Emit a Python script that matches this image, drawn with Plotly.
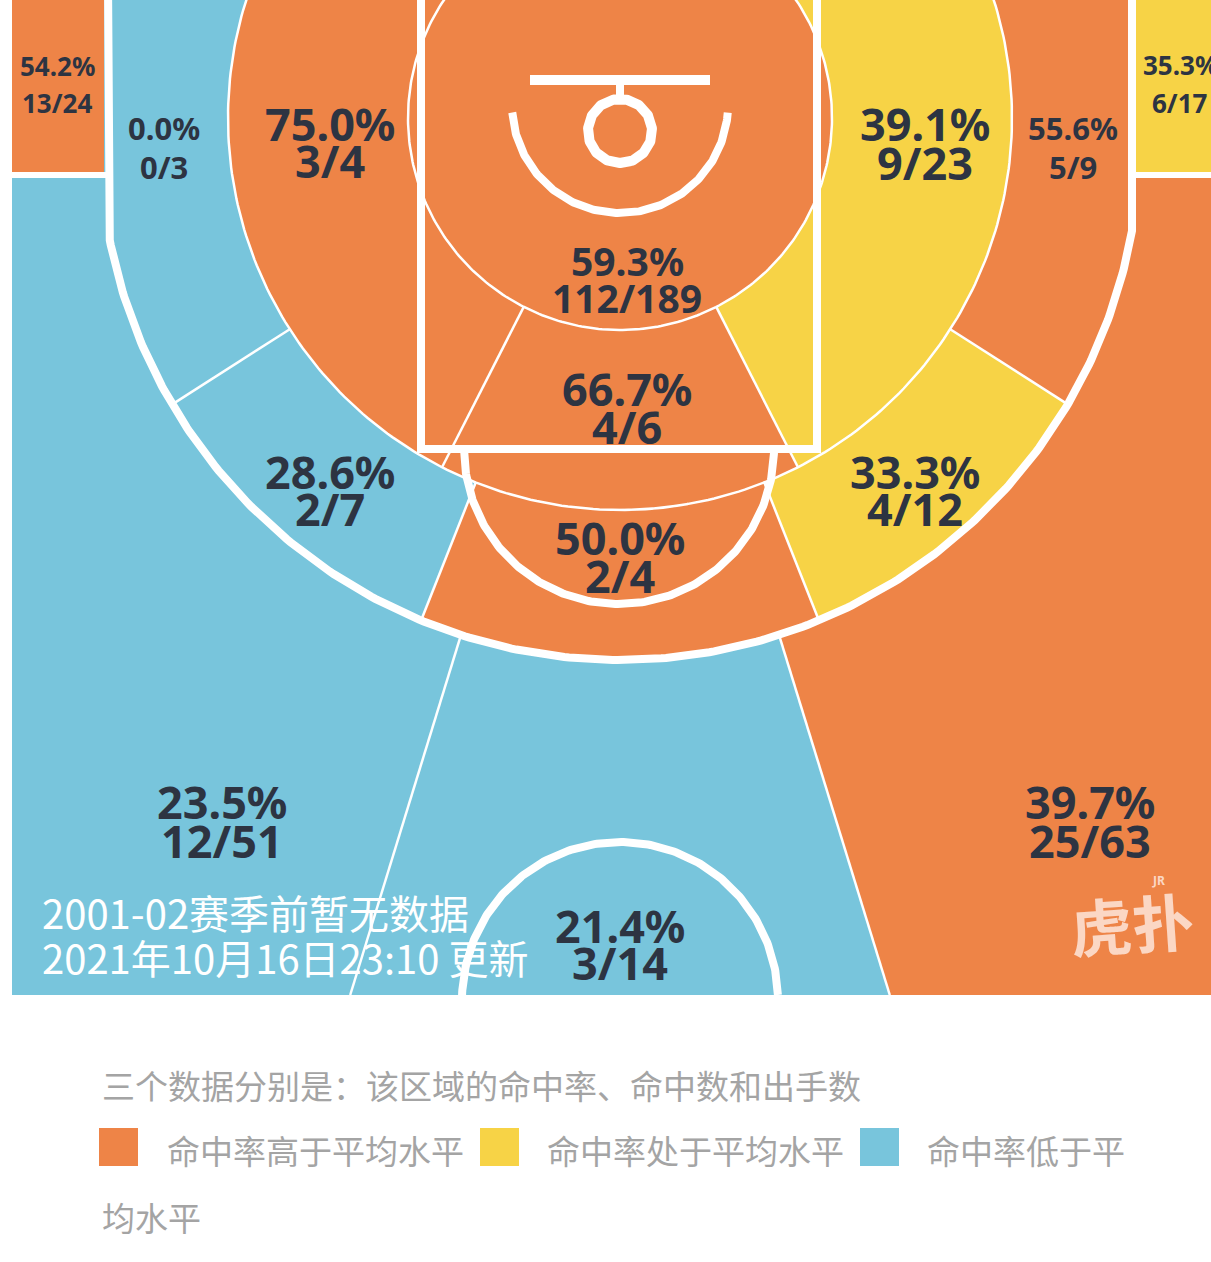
import numpy as np
import plotly.graph_objects as go

# ---- data: one entry per shooting zone ----
zone_ids = ["corner3_l", "corner3_r", "wing3_l", "top3", "wing3_r",
            "base_mid_l", "wing_mid_l", "top_mid", "wing_mid_r", "base_mid_r",
            "short_l", "paint", "short_r", "rim"]
makes = [13, 6, 12, 3, 25, 0, 2, 2, 4, 5, 3, 4, 9, 112]
attempts = [24, 17, 51, 14, 63, 3, 7, 4, 12, 9, 4, 6, 23, 189]
levels = ["high", "avg", "low", "low", "high", "low", "low", "high", "avg", "high",
          "high", "high", "avg", "high"]

level_names = ["high", "avg", "low"]
legend_labels = ["命中率高于平均水平", "命中率处于平均水平", "命中率低于平"]
note_text = "三个数据分别是：该区域的命中率、命中数和出手数"
info_lines = ["2001-02赛季前暂无数据", "2021年10月16日23:10 更新"]

# ---- styling / court geometry (pixel units of the 1211x1262 canvas) ----
W, H = 1211, 1262
colors = {"high": "#ee8447", "avg": "#f7d346", "low": "#78c5dc"}
TXT = "#2d3442"
CX, CY = 620, 118            # centre used for zone rings / radial splits
R_RIM, R_MID = 212, 392      # inner circle and mid-range split circle
C3X, C3Y, R3 = 620, 140, 520  # three point arc
X3L, X3R, Y3 = 108, 1132, 231  # straight corner lines
CORNER_Y = 175
COURT_L, COURT_B = 12, 995
A_IN, A_OUT, A_BASE, A_3 = 27.0, 21.6, 57.4, 17.1


def ray(th):
    t = np.radians(th)
    return np.sin(t), np.cos(t)


def r_three(th):
    dx, dy = ray(th)
    ox, oy = CX - C3X, CY - C3Y
    b = ox * dx + oy * dy
    t_disc = -b + np.sqrt(b * b - (ox * ox + oy * oy) + R3 * R3)
    t_half = (Y3 - CY) / dy if dy > 1e-9 else np.inf
    lim = max(t_disc, t_half)
    if dx < -1e-9:
        lim = min(lim, (X3L - CX) / dx)
    elif dx > 1e-9:
        lim = min(lim, (X3R - CX) / dx)
    if dy < -1e-9:
        lim = min(lim, (-40 - CY) / dy)
    return lim


def r_bottom(th):
    dx, dy = ray(th)
    return (COURT_B - CY) / dy


def polar(r, th):
    dx, dy = ray(th)
    return CX + r * dx, CY + r * dy


def wedge(t1, t2, rad, n=200):
    xs, ys = [CX], [CY]
    for th in np.linspace(t1, t2, n):
        r = rad(th) if callable(rad) else rad
        x, y = polar(r, th)
        xs.append(x)
        ys.append(y)
    return xs, ys


def arc(cx, cy, r, p1, p2, n=200):
    p = np.radians(np.linspace(p1, p2, n))
    return list(cx + r * np.sin(p)), list(cy + r * np.cos(p))


geom = {
    "wing3_l": lambda: wedge(-180, -A_3, 3000),
    "top3": lambda: wedge(-A_3, A_3, 3000),
    "wing3_r": lambda: wedge(A_3, 180, 3000),
    "corner3_l": lambda: ([COURT_L, X3L - 4, X3L - 4, COURT_L], [-20, -20, CORNER_Y, CORNER_Y]),
    "corner3_r": lambda: ([X3R + 4, 1300, 1300, X3R + 4], [-20, -20, CORNER_Y, CORNER_Y]),
    "base_mid_l": lambda: wedge(-180, -A_BASE, r_three),
    "wing_mid_l": lambda: wedge(-A_BASE, -A_OUT, r_three),
    "top_mid": lambda: wedge(-A_OUT, A_OUT, r_three),
    "wing_mid_r": lambda: wedge(A_OUT, A_BASE, r_three),
    "base_mid_r": lambda: wedge(A_BASE, 180, r_three),
    "short_l": lambda: wedge(-180, -A_IN, R_MID),
    "paint": lambda: wedge(-A_IN, A_IN, R_MID),
    "short_r": lambda: wedge(A_IN, 180, R_MID),
    "rim": lambda: arc(CX, CY, R_RIM, 0, 360),
}

# label anchor (x, y of first line), font size, line gap
label_pos = {
    "corner3_l": (57, 66, 26, 37), "corner3_r": (1180, 65, 26, 38),
    "wing3_l": (222, 801, 45, 39), "top3": (620, 925, 45, 37),
    "wing3_r": (1090, 801, 45, 39), "base_mid_l": (164, 128, 31, 39),
    "wing_mid_l": (330, 471, 45, 37), "top_mid": (620, 537, 45, 38),
    "wing_mid_r": (915, 471, 45, 37), "base_mid_r": (1073, 128, 31, 39),
    "short_l": (330, 123, 45, 37), "paint": (627, 388, 45, 38),
    "short_r": (925, 123, 45, 39), "rim": (627, 260, 39, 37),
}

fig = go.Figure()


def add_poly(xs, ys, color):
    fig.add_trace(go.Scatter(x=xs, y=ys, fill="toself", fillcolor=color, mode="none",
                             hoverinfo="skip", showlegend=False))


def add_line(xs, ys, width, color="white"):
    fig.add_trace(go.Scatter(x=xs, y=ys, mode="lines", line=dict(color=color, width=width),
                             hoverinfo="skip", showlegend=False))


draw_order = ["wing3_l", "top3", "wing3_r", "corner3_l", "corner3_r",
              "base_mid_l", "wing_mid_l", "top_mid", "wing_mid_r", "base_mid_r",
              "short_l", "paint", "short_r", "rim"]
for zid in draw_order:
    i = zone_ids.index(zid)
    xs, ys = geom[zid]()
    add_poly(xs, ys, colors[levels[i]])

# white outside the court
add_poly([-50, COURT_L, COURT_L, -50], [-50, -50, 1400, 1400], "white")
add_poly([-50, 1300, 1300, -50], [COURT_B, COURT_B, 1400, 1400], "white")

# thin zone borders
for r in (R_RIM, R_MID):
    add_line(*arc(CX, CY, r, 0, 370, 400), 2.5)
for s in (-1, 1):
    for th, r0, r1 in [(s * A_IN, R_RIM, R_MID), (s * A_OUT, R_MID, r_three(s * A_OUT)),
                       (s * A_BASE, R_MID, r_three(s * A_BASE)),
                       (s * A_3, r_three(s * A_3), r_bottom(s * A_3))]:
        x0, y0 = polar(r0, th)
        x1, y1 = polar(r1, th)
        add_line([x0, x1], [y0, y1], 2.5)

# court markings
psi = np.degrees(np.arcsin((C3X - X3L) / R3))
ax, ay = arc(C3X, C3Y, R3, -psi, psi, 300)
add_line([X3L] + ax + [X3R], [-20] + ay + [-20], 8)
add_line([COURT_L, X3L], [CORNER_Y, CORNER_Y], 6)
add_line([X3R, 1300], [CORNER_Y, CORNER_Y], 6)
add_line([421, 421, 817, 817], [-20, 449, 449, -20], 8)
add_line(*arc(619, 449, 155, -90, 90), 8)
add_line(*arc(620, 105, 108, -86, 86), 8)
add_line([530, 710], [80, 80], 10)
add_line([620, 620], [80, 100], 8)
add_line(*arc(620, 131, 32, 0, 380, 240), 10)
add_line(*arc(620, 1000, 158, 91.8, 268.2), 8)

# zone labels
for i, zid in enumerate(zone_ids):
    x, y, size, gap = label_pos[zid]
    pct = 100.0 * makes[i] / attempts[i]
    for k, txt in enumerate([f"{pct:.1f}%", f"{makes[i]}/{attempts[i]}"]):
        fig.add_annotation(x=x, y=y + k * gap, text=txt, showarrow=False,
                           xanchor="center", yanchor="middle",
                           font=dict(family="Noto Sans", size=size, color=TXT, weight="bold"))

# overlay info text
for k, txt in enumerate(info_lines):
    fig.add_annotation(x=40, y=912 + k * 45, text=txt, showarrow=False, xanchor="left",
                       yanchor="middle",
                       font=dict(family="Noto Sans CJK SC", size=40, color="white"))

# watermark
fig.add_annotation(x=1132, y=922, text="虎扑", showarrow=False, textangle=-4,
                   font=dict(family="Noto Sans CJK SC", size=62, color="#fbd7c4", weight="bold"))
fig.add_annotation(x=1158, y=880, text="JR", showarrow=False,
                   font=dict(family="Noto Sans", size=12, color="#fbd7c4", weight="bold"))

# legend area
gray = "#a4a4a4"
fig.add_annotation(x=100, y=1085, text=note_text, showarrow=False, xanchor="left",
                   yanchor="middle", font=dict(family="Noto Sans CJK SC", size=33, color=gray))
sq_x = [99, 480, 860]
txt_x = [165, 545, 925]
for lv, lab, sx, tx in zip(level_names, legend_labels, sq_x, txt_x):
    fig.add_shape(type="rect", x0=sx, x1=sx + 39, y0=1128, y1=1166, xref="x", yref="y",
                  fillcolor=colors[lv], line=dict(width=0))
    fig.add_annotation(x=tx, y=1150, text=lab, showarrow=False, xanchor="left",
                       yanchor="middle", font=dict(family="Noto Sans CJK SC", size=33, color=gray))
fig.add_annotation(x=100, y=1217, text="均水平", showarrow=False, xanchor="left",
                   yanchor="middle", font=dict(family="Noto Sans CJK SC", size=33, color=gray))

fig.update_layout(width=W, height=H, margin=dict(l=0, r=0, t=0, b=0),
                  paper_bgcolor="white", plot_bgcolor="white",
                  xaxis=dict(range=[0, W], visible=False, fixedrange=True),
                  yaxis=dict(range=[H, 0], visible=False, fixedrange=True))
# drop the default page margin so the figure sits at the window's corner
fig.write_html("out.html", config={"displayModeBar": False},
               post_script="document.body.style.margin='0px';")
